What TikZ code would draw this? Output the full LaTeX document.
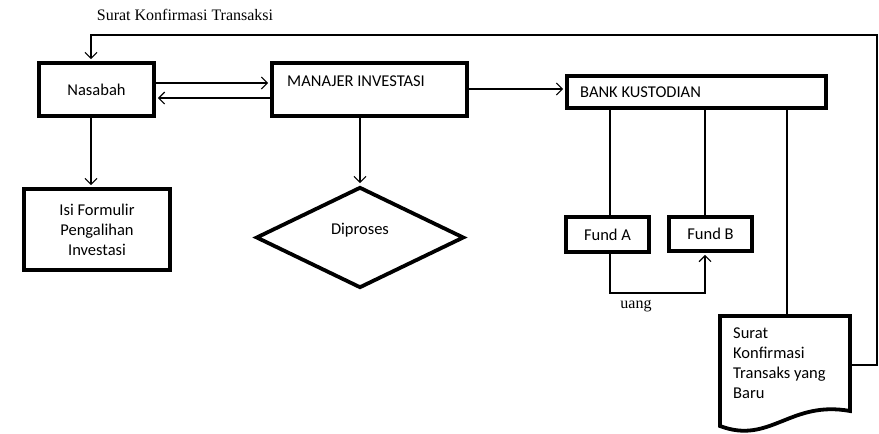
\documentclass[tikz,border=0pt]{standalone}
\usepackage{fontspec}
\setmainfont{Carlito}
\newfontfamily\serifface{Liberation Serif}
\usetikzlibrary{shapes.geometric,arrows.meta}
\begin{document}
\begin{tikzpicture}[x=1pt,y=-1pt,
  bx/.style={draw,line width=3.8pt,inner sep=0pt,font=\fontsize{16.5}{20}\selectfont},
  lbl/.style={inner sep=0pt,font=\fontsize{16.5}{20}\selectfont},
  sertxt/.style={inner sep=0pt,font=\serifface\fontsize{16}{18}\selectfont},
  ln/.style={line width=1.2pt},
  arr/.style={ln,-{Straight Barb[length=6pt,width=12pt,line width=1.2pt]}},
  arrb/.style={arr,shorten >=1.9pt}]
\useasboundingbox (0,0) rectangle (879,434);
% nodes
\node[sertxt] (title) at (185,15) {Surat Konfirmasi Transaksi};
\node[bx,minimum width=115pt,minimum height=53pt] (nas) at (96.5,89.5) {Nasabah};
\node[bx,minimum width=195pt,minimum height=53pt] (man) at (369.5,89.5) {};
\node[lbl,anchor=west] (mantext) at (287,81) {MANAJER INVESTASI};
\node[bx,minimum width=259pt,minimum height=32pt] (bank) at (696.5,92) {};
\node[lbl,anchor=west] (banktext) at (580,92) {BANK KUSTODIAN};
\node[bx,minimum width=146pt,minimum height=81pt,align=center] (isi) at (97,229.5) {Isi Formulir\\Pengalihan\\Investasi};
\node[bx,diamond,minimum width=208pt,minimum height=101pt] (dia) at (360,237.5) {};
\node[lbl] (diatext) at (360,230) {Diproses};
\node[bx,minimum width=83pt,minimum height=35pt] (fa) at (607.5,234.5) {Fund A};
\node[bx,minimum width=83pt,minimum height=34pt] (fb) at (710.5,234) {Fund B};
\node[sertxt] (uang) at (636,306) {uang};
% document shape
\draw[line width=3.8pt,line join=miter] (720,316) -- (850,316) -- (850,411)
  .. controls (790,400) and (770,445) .. (720,426) -- cycle;
\coordinate (doctop) at (787,316);
\coordinate (docright) at (850,365);
\node[lbl,anchor=north west,align=left] (doctext) at (733,328) {Surat\\Konfirmasi\\Transaks yang\\Baru};
% helper coordinates
\coordinate (tl) at (91,35);
\coordinate (tr) at (877,35);
\coordinate (ax) at (610,0);
\coordinate (bxc) at (705,0);
\coordinate (cx) at (787,0);
\coordinate (ub) at (0,293);
% connectors
\draw[arrb] (docright) -- (docright -| tr) -- (tr) -- (tl) -- (tl |- nas.north);
\draw[arrb] ([yshift=6.5pt]nas.east) -- ([yshift=6.5pt]man.west);
\draw[arrb] ([yshift=-8.5pt]man.west) -- ([yshift=-8.5pt]nas.east);
\draw[arrb] ([yshift=0.5pt]man.east) -- ([yshift=0.5pt]man.east -| bank.west);
\draw[arrb] (tl |- nas.south) -- (tl |- isi.north);
\draw[arrb] (dia.north |- man.south) -- (dia.north);
\draw[ln] (ax |- bank.south) -- (ax |- fa.north);
\draw[ln] (bxc |- bank.south) -- (bxc |- fb.north);
\draw[ln] (cx |- bank.south) -- (doctop);
\draw[arrb] (ax |- fa.south) -- (ax |- ub) -- (bxc |- ub) -- (bxc |- fb.south);
\end{tikzpicture}
\end{document}
